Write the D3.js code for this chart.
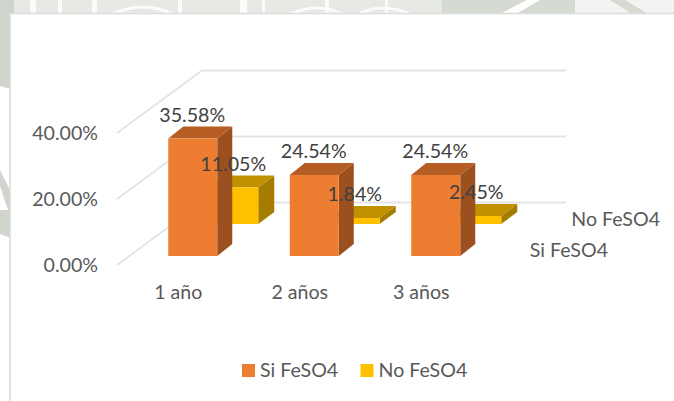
<!DOCTYPE html>
<html><head><meta charset="utf-8">
<script src="https://cdnjs.cloudflare.com/ajax/libs/d3/7.8.5/d3.min.js"></script>
<style>html,body{margin:0;padding:0;background:#fff}svg{display:block}text{font-family:Lato,"Open Sans",sans-serif}</style>
</head><body><svg id="c" width="674" height="401"></svg>
<script>
const categories=["1 año","2 años","3 años"];
const siValues=[35.58,24.54,24.54];
const noValues=[11.05,1.84,2.45];
const yTicks=[0,20,40];
const seriesNames=["Si FeSO4","No FeSO4"];
const colors={si:["#ED7D31","#B55D22","#9C5020"],no:["#FFC000","#BF9000","#A67C00"]};
const svg=d3.select("#c");
// watermark behind the pasted chart
svg.append("rect").attr("width",674).attr("height",401).attr("fill","#fff");
const wm=svg.append("g");
wm.append("rect").attr("width",674).attr("height",14).attr("fill","#f3f4f2");
wm.append("rect").attr("x",14).attr("width",428).attr("height",14).attr("fill","#e6e9e4");
[[30,6],[58,4],[92,5],[178,4],[240,7],[262,3],[325,4],[385,3]].forEach(([a,b])=>wm.append("rect").attr("x",a).attr("width",b).attr("height",14).attr("fill","#fafbfa"));
wm.append("path").attr("d","M112 14Q145 0 172 14ZM290 14Q318 2 342 14ZM358 14Q382 2 410 14Z").attr("fill","none").attr("stroke","#fafbfa").attr("stroke-width",3);
wm.append("rect").attr("x",442).attr("width",133).attr("height",14).attr("fill","#d5dad2");
wm.append("path").attr("d","M500 14L527 0H540L516 14Z").attr("fill","#fff");
wm.append("path").attr("d","M610 0H625L648 14H632Z").attr("fill","#d5dad2");
wm.append("path").attr("d","M0 0H14V14H11V89L0 86Z").attr("fill","#cfd5cc");
wm.append("path").attr("d","M0 170L11 192V238L0 234V210L8 210L0 186Z").attr("fill","#cfd5cc");
svg.append("rect").attr("x",10).attr("y",13.5).attr("width",670).attr("height",400).attr("fill","#fff").attr("stroke","#dcdcdc").attr("stroke-width",1.6);
const y=d3.scaleLinear().domain([0,40]).range([265,133]);
const x=d3.scaleBand().domain(categories).range([117.5,482]);
const depth={dx:85,dy:-62.5};
const grid=svg.append("g").attr("fill","none").attr("stroke","#e4e4e4").attr("stroke-width",1.8);
yTicks.forEach(t=>{
 grid.append("path").attr("d",d3.line()([[117,y(t)],[117+depth.dx,y(t)+depth.dy],[566,y(t)+depth.dy]]));
});
const fs=19.6;
svg.append("g").selectAll("text").data(yTicks).join("text")
 .attr("x",98).attr("y",d=>y(d)+7).attr("text-anchor","end").attr("font-size",fs).attr("fill","#595959")
 .text(d=>d3.format(".2f")(d)+"%");
function bar(g,left,base,w,v,c,dx,dy){
 const top=base-(y(0)-y(v));
 g.append("path").attr("fill",c[2]).attr("d",d3.line()([[left+w,base],[left+w+dx,base+dy],[left+w+dx,top+dy],[left+w,top]]));
 g.append("path").attr("fill",c[1]).attr("d",d3.line()([[left,top],[left+dx,top+dy],[left+w+dx,top+dy],[left+w,top]]));
 g.append("rect").attr("x",left).attr("y",top).attr("width",w).attr("height",base-top).attr("fill",c[0]);
}
const cx=c=>x(c)+x.bandwidth()/2;
const bars=svg.append("g");
categories.forEach((c,i)=>bar(bars,cx(c)+31,224,49,noValues[i],colors.no,16,-12));
categories.forEach((c,i)=>bar(bars,cx(c)-10,256,49,siValues[i],colors.si,15,-12));
const lab=svg.append("g").attr("font-size",fs).attr("fill","#404040").attr("text-anchor","middle");
categories.forEach((c,i)=>{
 lab.append("text").attr("x",cx(c)+14).attr("y",256-(y(0)-y(siValues[i]))-17).text(siValues[i].toFixed(2)+"%");
 lab.append("text").attr("x",cx(c)+55).attr("y",224-(y(0)-y(noValues[i]))-17).text(noValues[i].toFixed(2)+"%");
});
svg.append("g").attr("font-size",fs).attr("fill","#595959").attr("text-anchor","middle").selectAll("text")
 .data(categories).join("text").attr("x",cx).attr("y",299).text(d=>d);
svg.append("text").attr("x",660).attr("y",226).attr("text-anchor","end").attr("font-size",fs).attr("fill","#595959").text(seriesNames[1]);
svg.append("text").attr("x",608).attr("y",257).attr("text-anchor","end").attr("font-size",fs).attr("fill","#595959").text(seriesNames[0]);
const lg=svg.append("g").attr("font-size",fs).attr("fill","#595959");
[[242,colors.si[0]],[360.5,colors.no[0]]].forEach(([lx,col],i)=>{
 lg.append("rect").attr("x",lx).attr("y",364).attr("width",13).attr("height",13).attr("fill",col);
 lg.append("text").attr("x",lx+18).attr("y",377).text(seriesNames[i]);
});
</script></body></html>
